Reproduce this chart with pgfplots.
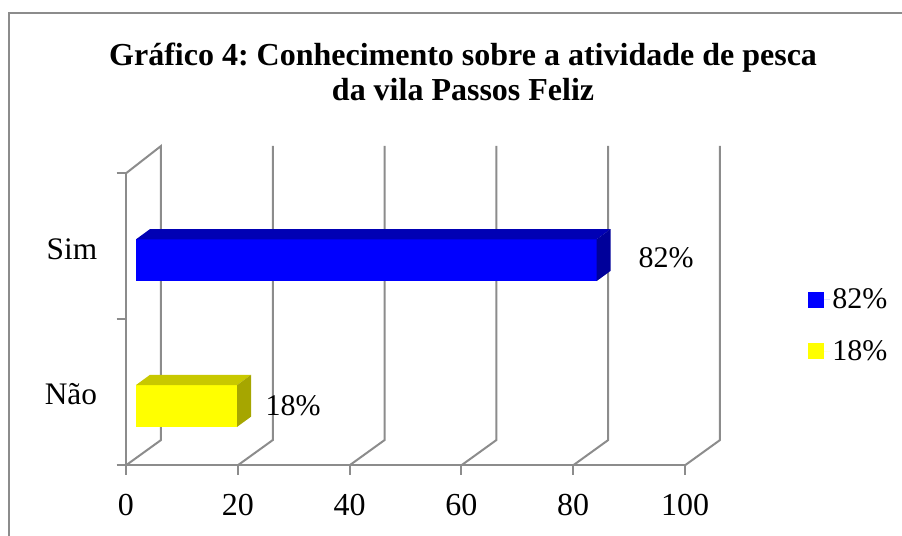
\documentclass[border=0pt]{standalone}
\usepackage{fontspec}
\setmainfont{Liberation Serif}
\usepackage{pgfplots}
\pgfplotsset{compat=1.18}
\definecolor{gridgray}{HTML}{8C8C8C}
\definecolor{pureblue}{HTML}{0000FF}
\definecolor{pureyellow}{HTML}{FFFF00}
\definecolor{bluetop}{HTML}{0000B4}
\definecolor{blueside}{HTML}{00009A}
\definecolor{yellowtop}{HTML}{C8C800}
\definecolor{yellowside}{HTML}{A6A600}
\begin{document}
\frenchspacing
\begin{tikzpicture}
\begin{axis}[
    scale only axis,
    width=419.25pt,
    height=219pt,
    at={(0,0)},
    anchor=origin,
    xmin=0, xmax=100,
    ymin=0, ymax=2,
    clip=false,
    axis lines=left,
    axis line style={gridgray, line width=1.5pt, -},
    every tick/.style={gridgray, line width=1.5pt},
    major tick length=7pt,
    tick align=outside,
    xtick={0,20,40,60,80,100},
    ytick={0,1,2},
    yticklabels={},
    /pgf/number format/assume math mode=true,
    tick label style={font=\fontsize{24}{26}\selectfont},
    xticklabel style={yshift=-11.5pt},
    legend style={
        draw=none, fill=none,
        at={(axis cs:121.2,0.957)}, anchor=west,
        font=\fontsize{22.5}{24}\selectfont,
        row sep=18pt,
    },
    legend cell align=left,
    legend image code/.code={\path (0pt,0pt) -- (16.5pt,0pt); \fill[#1] (0pt,-6pt) rectangle (12pt,6pt);},
]
    % paredes 3D
    \addplot[gridgray, line width=1.5pt, forget plot] coordinates {(0,2) (6.26,2.187) (6.26,0.173) (0,0)};
    \addplot[gridgray, line width=1.5pt, forget plot] coordinates {(26.26,2.187) (26.26,0.173) (20,0)};
    \addplot[gridgray, line width=1.5pt, forget plot] coordinates {(46.26,2.187) (46.26,0.173) (40,0)};
    \addplot[gridgray, line width=1.5pt, forget plot] coordinates {(66.26,2.187) (66.26,0.173) (60,0)};
    \addplot[gridgray, line width=1.5pt, forget plot] coordinates {(86.26,2.187) (86.26,0.173) (80,0)};
    \addplot[gridgray, line width=1.5pt, forget plot] coordinates {(106.26,2.187) (106.26,0.173) (100,0)};

    % barra Sim
    \addplot[fill=pureblue, draw=none] coordinates {(1.8,1.262) (84.2,1.262) (84.2,1.548) (1.8,1.548)} --cycle;
    \addplot[fill=bluetop, draw=none, forget plot] coordinates {(1.8,1.548) (84.2,1.548) (86.7,1.618) (4.3,1.618)} --cycle;
    \addplot[fill=blueside, draw=none, forget plot] coordinates {(84.2,1.262) (86.7,1.332) (86.7,1.618) (84.2,1.548)} --cycle;

    % barra Nao
    \addplot[fill=pureyellow, draw=none] coordinates {(1.8,0.264) (19.9,0.264) (19.9,0.55) (1.8,0.55)} --cycle;
    \addplot[fill=yellowtop, draw=none, forget plot] coordinates {(1.8,0.55) (19.9,0.55) (22.4,0.62) (4.3,0.62)} --cycle;
    \addplot[fill=yellowside, draw=none, forget plot] coordinates {(19.9,0.264) (22.4,0.334) (22.4,0.62) (19.9,0.55)} --cycle;

    \legend{82\%, 18\%}

    \node[font=\fontsize{22.5}{24}\selectfont] at (axis cs:96.6,1.42) {82\%};
    \node[font=\fontsize{22.5}{24}\selectfont] at (axis cs:29.9,0.406) {18\%};
    \node[font=\fontsize{23.5}{24}\selectfont] at (axis cs:-9.66,1.478) {Sim};
    \node[font=\fontsize{23.5}{24}\selectfont] at (axis cs:-9.86,0.488) {Não};
    \node[font=\fontsize{24}{26.2}\selectfont\bfseries, align=center] at (axis cs:60.3,2.697)
        {Gráfico 4: Conhecimento sobre a atividade de pesca\\da vila Passos Feliz};

    % moldura
    \draw[gridgray, line width=0.9pt] (axis cs:-20.93,-0.484) -- (axis cs:-20.93,3.098) -- (axis cs:138.82,3.098);
    \coordinate (bl) at (axis cs:-22.54,-0.484);
    \coordinate (tr) at (axis cs:138.82,3.187);
\end{axis}
\pgfresetboundingbox
\useasboundingbox (bl) rectangle (tr);
\end{tikzpicture}
\end{document}
